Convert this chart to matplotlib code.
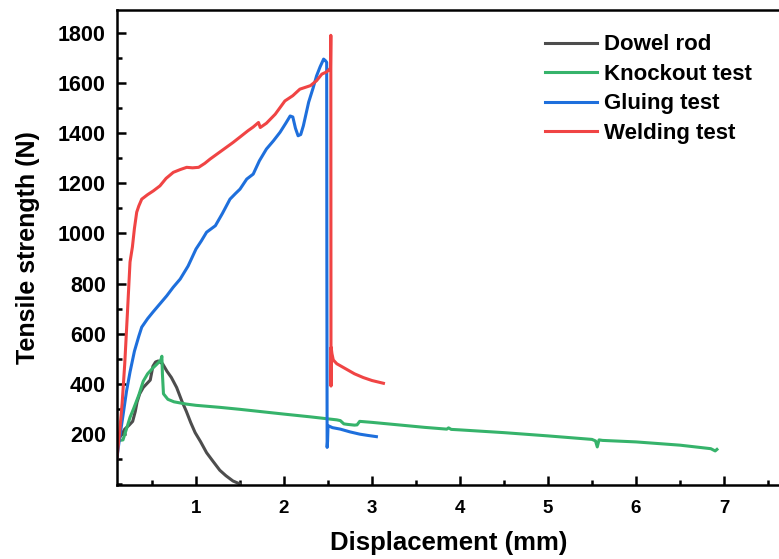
import matplotlib
matplotlib.use("Agg")
import matplotlib.pyplot as plt
from matplotlib.ticker import MultipleLocator, FixedLocator

plt.rcParams['font.family'] = ['Liberation Sans', 'DejaVu Sans']
plt.rcParams['font.weight'] = 'bold'

# ---- data ----
dowel_x = [0.10, 0.15, 0.19, 0.24, 0.28, 0.31, 0.33, 0.36, 0.40, 0.44, 0.48, 0.51, 0.54, 0.57,
           0.62, 0.67, 0.72, 0.78, 0.84, 0.89, 0.94, 0.99, 1.05, 1.12, 1.19, 1.27, 1.34, 1.42, 1.50]
dowel_y = [168, 195, 219, 235, 250, 290, 327, 360, 385, 400, 415, 470, 487, 491,
           480, 450, 425, 385, 330, 290, 245, 205, 170, 125, 92, 55, 33, 12, 0]

knock_x = [0.10, 0.115, 0.17, 0.21, 0.25, 0.29, 0.35, 0.40, 0.45, 0.51, 0.56, 0.60, 0.612, 0.618,
           0.63, 0.68, 0.75, 0.89, 1.0, 1.27, 1.5, 2.0, 2.3, 2.6, 2.64, 2.68, 2.72, 2.80, 2.83,
           2.86, 3.0, 3.3, 3.6, 3.85, 3.87, 3.9, 4.0, 4.5, 5.0, 5.5, 5.54, 5.56, 5.58, 5.62,
           6.0, 6.5, 6.85, 6.9, 6.92]
knock_y = [150, 173, 176, 220, 266, 300, 355, 410, 440, 463, 480, 495, 510, 440,
           360, 338, 328, 319, 314, 306, 298, 279, 268, 256, 253, 240, 238, 235, 236,
           250, 246, 236, 226, 219, 224, 218, 216, 205, 192, 178, 172, 148, 176, 174,
           168, 155, 141, 132, 138]

glue_x = [0.10, 0.13, 0.17, 0.21, 0.25, 0.30, 0.35, 0.383, 0.45, 0.51, 0.58, 0.667, 0.74, 0.82,
          0.91, 1.0, 1.06, 1.12, 1.22, 1.30, 1.386, 1.45, 1.5, 1.576, 1.65, 1.72, 1.80, 1.88,
          1.955, 2.02, 2.07, 2.10, 2.13, 2.16, 2.19, 2.22, 2.28, 2.33, 2.37, 2.41, 2.45, 2.47,
          2.485, 2.487, 2.49, 2.495, 2.50, 2.55, 2.64, 2.75, 2.86, 2.95, 3.05]
glue_y = [100, 180, 273, 370, 447, 530, 590, 626, 660, 686, 715, 751, 785, 818,
          870, 938, 970, 1005, 1031, 1080, 1137, 1160, 1177, 1217, 1237, 1290, 1337, 1370,
          1404, 1440, 1469, 1465, 1420, 1390, 1395, 1430, 1524, 1580, 1629, 1665, 1696, 1690,
          1683, 900, 146, 170, 233, 225, 219, 208, 199, 194, 189]

weld_x = [0.10, 0.13, 0.16, 0.19, 0.22, 0.25, 0.277, 0.30, 0.326, 0.35, 0.383, 0.45, 0.515,
          0.59, 0.66, 0.742, 0.82, 0.894, 0.96, 1.03, 1.10, 1.16, 1.29, 1.42, 1.50, 1.59,
          1.65, 1.71, 1.73, 1.80, 1.90, 2.01, 2.10, 2.18, 2.30, 2.37, 2.43, 2.485, 2.50,
          2.528, 2.532, 2.534, 2.536, 2.545, 2.56, 2.60, 2.70, 2.80, 2.90, 3.0, 3.13]
weld_y = [100, 200, 320, 480, 680, 886, 946, 1020, 1085, 1110, 1137, 1155, 1170,
          1190, 1220, 1244, 1255, 1264, 1262, 1264, 1280, 1297, 1330, 1363, 1385, 1410,
          1425, 1443, 1423, 1440, 1476, 1529, 1550, 1576, 1590, 1610, 1636, 1645, 1650,
          1660, 1791, 391, 545, 520, 495, 480, 460, 440, 425, 413, 402]

labels = ['Dowel rod', 'Knockout test', 'Gluing test', 'Welding test']
colors = ['#4d4d4d', '#36b36b', '#1e6fdc', '#f04444']
y_ticks = [200, 400, 600, 800, 1000, 1200, 1400, 1600, 1800]
x_ticks = [1, 2, 3, 4, 5, 6, 7]

W, H = 779, 559
fig = plt.figure(figsize=(W / 100, H / 100), dpi=100)
ax = fig.add_axes([117 / W, (H - 485) / H, (781 - 117) / W, (485 - 10) / H])

series = [(dowel_x, dowel_y), (knock_x, knock_y), (glue_x, glue_y), (weld_x, weld_y)]
for (xs, ys), lab, c in zip(series, labels, colors):
    ax.plot(xs, ys, color=c, lw=2.2, label=lab, solid_joinstyle='round')

ax.set_xlim(0.102, 7.648)
ax.set_ylim(-4, 1892)
ax.xaxis.set_major_locator(FixedLocator(x_ticks))
ax.xaxis.set_minor_locator(MultipleLocator(0.5))
ax.yaxis.set_major_locator(FixedLocator(y_ticks))
ax.yaxis.set_minor_locator(MultipleLocator(100))

for s in ax.spines.values():
    s.set_linewidth(1.8)

ax.tick_params(which='both', direction='in', top=False, right=False, width=1.8)
ax.tick_params(which='major', length=6.5)
ax.tick_params(which='minor', length=3.6)
ax.tick_params(axis='y', which='major', labelsize=15.5, pad=8)
ax.tick_params(axis='x', which='major', labelsize=13.5, pad=11)
for lab in ax.get_xticklabels() + ax.get_yticklabels():
    lab.set_fontweight('bold')

ax.set_xlabel('Displacement (mm)', fontsize=18.5, fontweight='bold', labelpad=10)
ax.set_ylabel('Tensile strength (N)', fontsize=18, fontweight='bold', labelpad=13)

leg = ax.legend(loc='upper left', bbox_to_anchor=(545 / W, 1 - 34.5 / H),
                bbox_transform=fig.transFigure, frameon=False, fontsize=16,
                handlelength=2.35, handletextpad=0.3, labelspacing=0.38,
                borderpad=0, borderaxespad=0)
for t in leg.get_texts():
    t.set_fontweight('bold')

fig.savefig('out.png', dpi=100)
